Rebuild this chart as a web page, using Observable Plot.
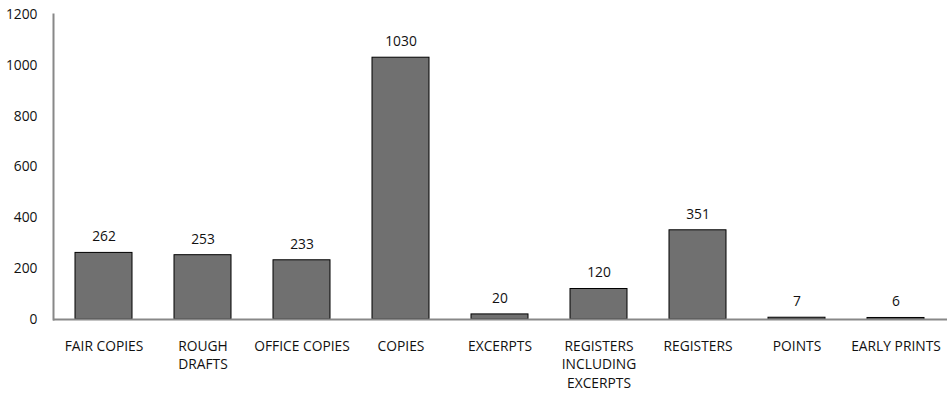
<!DOCTYPE html>
<html>
<head>
<meta charset="utf-8">
<script src="https://cdn.jsdelivr.net/npm/d3@7"></script>
<script src="https://cdn.jsdelivr.net/npm/@observablehq/plot@0.6"></script>
<style>
  html, body { margin: 0; padding: 0; background: #fff; }
  #chart svg { display: block; }
</style>
</head>
<body>
<div id="chart"></div>
<script>
// Document types and their counts
const categories = [
  "FAIR COPIES", "ROUGH DRAFTS", "OFFICE COPIES", "COPIES", "EXCERPTS",
  "REGISTERS INCLUDING EXCERPTS", "REGISTERS", "POINTS", "EARLY PRINTS"
];
const tickLabels = [
  "FAIR COPIES", "ROUGH\nDRAFTS", "OFFICE COPIES", "COPIES", "EXCERPTS",
  "REGISTERS\nINCLUDING\nEXCERPTS", "REGISTERS", "POINTS", "EARLY PRINTS"
];
const counts = [262, 253, 233, 1030, 20, 120, 351, 7, 6];
const yTicks = [0, 200, 400, 600, 800, 1000, 1200];

const data = categories.map((c, i) => ({category: c, label: tickLabels[i], count: counts[i]}));

const font = "'Open Sans', sans-serif";
const fs = 13.8;
const ink = "#111";

const chart = Plot.plot({
  width: 947,
  height: 394,
  marginLeft: 53,
  marginRight: 0,
  marginTop: 14,
  marginBottom: 75,
  style: {fontFamily: font, fontSize: fs + "px", color: ink, background: "#fff"},
  x: {domain: categories, paddingInner: 0.42, paddingOuter: 0.21, axis: null},
  y: {domain: [0, 1200], axis: null},
  marks: [
    Plot.axisY({ticks: yTicks, tickFormat: d => String(d), label: null, tickSize: 0, tickPadding: 16, fontSize: fs, fill: ink}),
    Plot.barY(data, {x: "category", y: "count", fill: "#707070", stroke: "#000", strokeWidth: 1}),
    Plot.text(data, {x: "category", y: "count", text: d => String(d.count), dy: -16, fontSize: fs, fill: ink}),
    Plot.text(data, {x: "category", y: 0, text: "label", dy: 18, lineAnchor: "top", lineHeight: 1.355, fontSize: fs, fill: ink}),
    Plot.ruleY([0], {stroke: "#888", strokeWidth: 2}),
    Plot.frame({anchor: "left", stroke: "#888", strokeWidth: 2})
  ]
});

document.getElementById("chart").appendChild(chart);
</script>
</body>
</html>
